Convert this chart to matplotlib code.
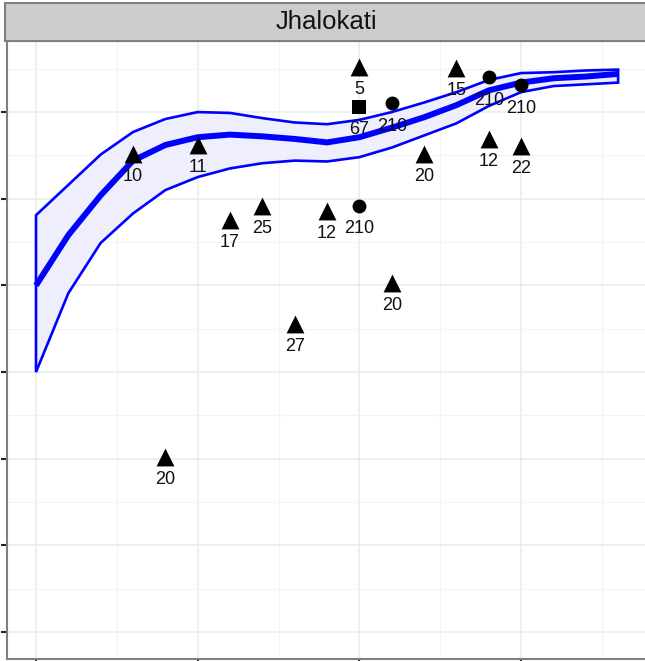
import matplotlib
matplotlib.use("Agg")
import matplotlib.pyplot as plt
from matplotlib.patches import Polygon
import numpy as np

plt.rcParams['font.family'] = ['Liberation Sans', 'DejaVu Sans']

# ---- data ----
facet_title = "Jhalokati"

curve_x = list(range(19))
curve_mean = [4.00, 4.58, 5.04, 5.44, 5.62, 5.71, 5.74, 5.72, 5.69, 5.65,
              5.71, 5.82, 5.94, 6.08, 6.25, 6.34, 6.39, 6.41, 6.44]
curve_upper = [4.81, 5.16, 5.51, 5.77, 5.92, 6.00, 5.99, 5.93, 5.88, 5.86,
               5.91, 6.00, 6.11, 6.23, 6.37, 6.45, 6.46, 6.48, 6.49]
curve_lower = [3.00, 3.91, 4.49, 4.83, 5.10, 5.25, 5.35, 5.41, 5.44, 5.43,
               5.48, 5.59, 5.73, 5.87, 6.07, 6.23, 6.30, 6.32, 6.34]

tri_x = [3, 5, 4, 6, 7, 8, 9, 10, 11, 12, 13, 14, 15]
tri_y = [5.52, 5.62, 2.02, 4.76, 4.92, 3.56, 4.86, 6.52, 4.03, 5.52, 6.51, 5.69, 5.61]
tri_lab = ["10", "11", "20", "17", "25", "27", "12", "5", "20", "20", "15", "12", "22"]

circ_x = [10, 11, 14, 15]
circ_y = [4.92, 6.10, 6.40, 6.31]
circ_lab = ["210", "210", "210", "210"]

sq_x = [10]
sq_y = [6.06]
sq_lab = ["67"]

x_major = [0, 5, 10, 15]
x_minor = [2.5, 7.5, 12.5, 17.5]
y_major = [0, 1, 2, 3, 4, 5, 6]
y_minor = [0.5, 1.5, 2.5, 3.5, 4.5, 5.5, 6.5]

# ---- figure ----
W, H = 645, 661
fig = plt.figure(figsize=(W / 100, H / 100), dpi=100)

left_px, right_px = 6.5, 652
top_px, bottom_px = 41, 659
ax = fig.add_axes([left_px / W, (H - bottom_px) / H,
                   (right_px - left_px) / W, (bottom_px - top_px) / H])

# x scale: 32.34 px per unit, 0 at px 36
ax.set_xlim(-0.912, -0.912 + (right_px - left_px) / 32.34)
ax.set_ylim(-0.31, 6.82)

ax.set_xticks(x_major)
ax.set_xticks(x_minor, minor=True)
ax.set_yticks(y_major)
ax.set_yticks(y_minor, minor=True)
ax.grid(which='major', color='#EBEBEB', linewidth=1.1)
ax.grid(which='minor', color='#F4F4F4', linewidth=0.8)
ax.set_axisbelow(True)
ax.tick_params(which='major', length=4.5, width=1.5, color='#222222',
               labelleft=False, labelbottom=False)
ax.tick_params(which='minor', length=0)
for s in ax.spines.values():
    s.set_color('#808080')
    s.set_linewidth(1.5)

# ribbon
poly_pts = list(zip(curve_x, curve_upper)) + list(zip(curve_x[::-1], curve_lower[::-1]))
ax.add_patch(Polygon(poly_pts, closed=True, facecolor='#EEEEFD',
                     edgecolor='#0000FF', linewidth=1.9, zorder=2))
ax.plot(curve_x, curve_mean, color='#0000FF', linewidth=4.3,
        solid_capstyle='butt', zorder=3)

# points
ax.scatter(tri_x, tri_y, marker='^', s=165, color='black', zorder=4, linewidths=0)
ax.scatter(circ_x, circ_y, marker='o', s=100, color='black', zorder=4, linewidths=0)
ax.scatter(sq_x, sq_y, marker='s', s=105, color='black', zorder=4, linewidths=0)

for xs, ys, labs in [(tri_x, tri_y, tri_lab), (circ_x, circ_y, circ_lab), (sq_x, sq_y, sq_lab)]:
    for x, y, t in zip(xs, ys, labs):
        ax.annotate(t, (x, y), xytext=(0, -16.5), textcoords='offset points',
                    ha='center', va='center', fontsize=13, color='#111111', zorder=5)

# strip
strip = fig.add_axes([5 / W, (H - 41) / H, (660 - 5) / W, (41 - 3) / H])
strip.set_facecolor('#CCCCCC')
strip.set_xticks([])
strip.set_yticks([])
for s in strip.spines.values():
    s.set_color('#808080')
    s.set_linewidth(1.5)
strip.text((326 - 5) / (660 - 5), 0.5, facet_title, ha='center', va='center',
           fontsize=18.5, color='#111111', transform=strip.transAxes)

fig.savefig("out.png", dpi=100)
